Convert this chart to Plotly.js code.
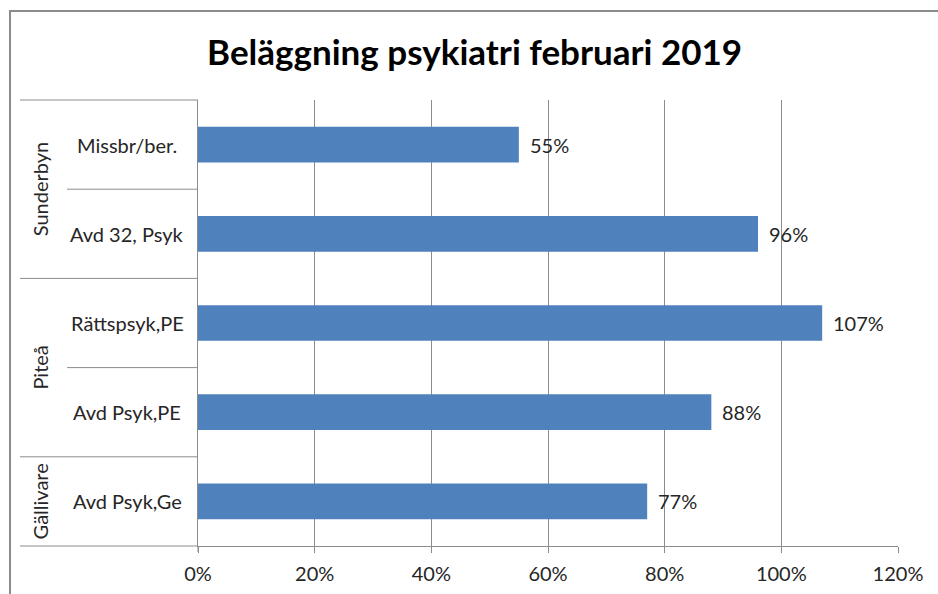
<!DOCTYPE html>
<html>
<head>
<meta charset="utf-8">
<script src="https://cdn.plot.ly/plotly-3.0.1.min.js"></script>
<style>
  html, body { margin: 0; padding: 0; background: #fff; overflow: hidden; }
  #frame { position: absolute; left: 9px; top: 10px; width: 940px; height: 600px;
           border-left: 2px solid #8c8c8c; border-top: 2px solid #8c8c8c; }
  #chart { position: absolute; left: 0; top: 0; width: 938px; height: 594px; }
</style>
</head>
<body>
<div id="frame"></div>
<div id="chart"></div>
<script>
// ---- data ----
const categories = ["Missbr/ber.", "Avd 32, Psyk", "Rättspsyk,PE", "Avd Psyk,PE", "Avd Psyk,Ge"];
const groups     = ["Sunderbyn", "Sunderbyn", "Piteå", "Piteå", "Gällivare"];
const values     = [0.55, 0.96, 1.07, 0.88, 0.77];
const valueLabels = ["55%", "96%", "107%", "88%", "77%"];
const xTickVals  = [0, 0.2, 0.4, 0.6, 0.8, 1.0, 1.2];
const xTickText  = ["0%", "20%", "40%", "60%", "80%", "100%", "120%"];
const titleText  = "Beläggning psykiatri februari 2019";

// ---- layout helpers ----
const W = 938, H = 594;
const mL = 198, mR = 40, mT = 100, mB = 48;
const plotW = W - mL - mR;
const n = categories.length;
const px2paperX = px => (px - mL) / plotW;
const idx2paperY = i => ((n - 0.5) - i) / n;   // reversed category axis
const fontFam = "Lato, 'Open Sans', sans-serif";
const txtColor = "#262626";
const lineColor = "#8c8c8c";
const fs = 20;

const annotations = [];
const shapes = [];

// category labels
categories.forEach((c, i) => {
  annotations.push({
    xref: "paper", yref: "paper", x: px2paperX(127), y: idx2paperY(i),
    text: c, showarrow: false, xanchor: "center", yanchor: "middle",
    font: { family: fontFam, size: fs, color: txtColor }
  });
});

// value labels
values.forEach((v, i) => {
  annotations.push({
    xref: "x", yref: "y", x: v, y: categories[i],
    text: valueLabels[i], showarrow: false, xanchor: "left", yanchor: "middle",
    xshift: 9, font: { family: fontFam, size: fs, color: txtColor }
  });
});

// group labels and separators
let start = 0;
for (let i = 1; i <= n; i++) {
  if (i === n || groups[i] !== groups[start]) {
    const mid = (start + i - 1) / 2;
    annotations.push({
      xref: "paper", yref: "paper", x: px2paperX(40), y: idx2paperY(mid),
      text: groups[start], showarrow: false, textangle: -90,
      xanchor: "center", yanchor: "middle",
      font: { family: fontFam, size: fs, color: txtColor }
    });
    shapes.push({ type: "line", xref: "paper", yref: "paper",
      x0: px2paperX(20), x1: 0, y0: idx2paperY(start - 0.5), y1: idx2paperY(start - 0.5),
      line: { color: lineColor, width: 1 } });
    for (let k = start + 1; k < i; k++) {
      shapes.push({ type: "line", xref: "paper", yref: "paper",
        x0: px2paperX(67), x1: 0, y0: idx2paperY(k - 0.5), y1: idx2paperY(k - 0.5),
        line: { color: lineColor, width: 1 } });
    }
    start = i;
  }
}
shapes.push({ type: "line", xref: "paper", yref: "paper",
  x0: px2paperX(20), x1: 0, y0: 0, y1: 0, line: { color: lineColor, width: 1 } });
shapes.push({ type: "line", xref: "paper", yref: "paper",
  x0: 0, x1: 0, y0: 0, y1: -6 / (H - mT - mB), line: { color: lineColor, width: 1 } });

const trace = {
  type: "bar", orientation: "h",
  x: values, y: categories,
  marker: { color: "#4f81bd" },
  width: 0.4,
  hoverinfo: "none"
};

const layout = {
  width: W, height: H,
  margin: { l: mL, r: mR, t: mT, b: mB, pad: 0 },
  paper_bgcolor: "rgba(0,0,0,0)", plot_bgcolor: "rgba(0,0,0,0)",
  title: { text: "<b>" + titleText + "</b>", x: 0.506, xanchor: "center", y: 0.912, yanchor: "middle",
           font: { family: fontFam, size: 35, color: "#000" } },
  showlegend: false,
  xaxis: {
    range: [0, 1.2], tickvals: xTickVals, ticktext: xTickText,
    showgrid: true, gridcolor: lineColor, gridwidth: 1,
    showline: true, linecolor: lineColor, linewidth: 1,
    ticks: "outside", ticklen: 6, tickcolor: lineColor,
    ticklabelstandoff: 4,
    tickfont: { family: fontFam, size: fs, color: txtColor },
    zeroline: false, fixedrange: true
  },
  yaxis: {
    type: "category", range: [n - 0.5, -0.5],
    showticklabels: false, showgrid: false, zeroline: false,
    showline: true, linecolor: lineColor, linewidth: 1, ticks: "", fixedrange: true
  },
  annotations: annotations,
  shapes: shapes,
  bargap: 0.6
};

Plotly.newPlot("chart", [trace], layout, { staticPlot: true });
</script>
</body>
</html>
